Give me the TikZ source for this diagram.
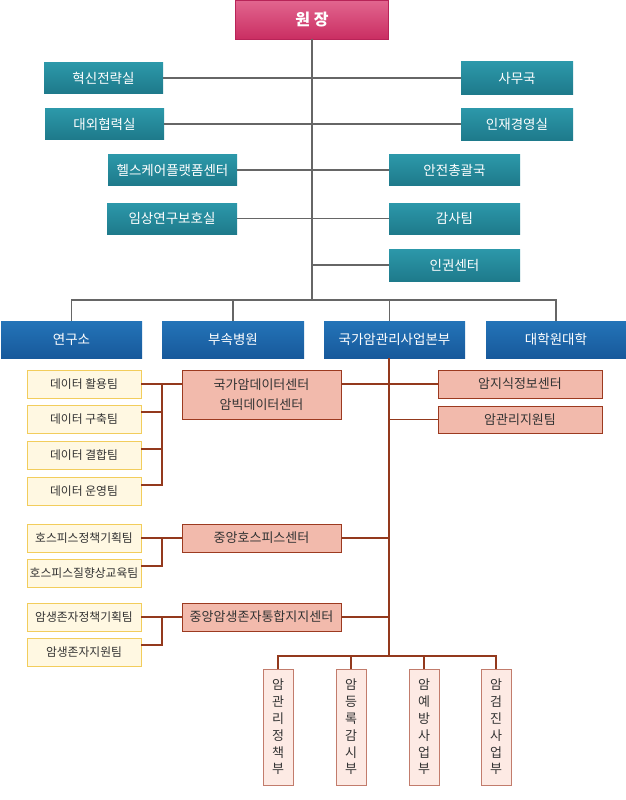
\documentclass[tikz,border=0pt]{standalone}
\usepackage{fontspec}
\setmainfont{Noto Sans CJK KR}
\definecolor{tealT}{HTML}{2C98AA}
\definecolor{tealB}{HTML}{1E7A8B}
\definecolor{blueT}{HTML}{2474B8}
\definecolor{blueB}{HTML}{17599B}
\definecolor{magT}{HTML}{E2668F}
\definecolor{magB}{HTML}{CA2E62}
\definecolor{magD}{HTML}{B82458}
\definecolor{yelF}{HTML}{FFF8E2}
\definecolor{yelD}{HTML}{F2CD5C}
\definecolor{salF}{HTML}{F2BAAC}
\definecolor{salD}{HTML}{9C3A20}
\definecolor{lpF}{HTML}{FDEAE4}
\definecolor{lpD}{HTML}{C27C6C}
\definecolor{lineg}{HTML}{666666}
\definecolor{liner}{HTML}{93391D}
\definecolor{txt}{HTML}{333333}
\begin{document}
\begin{tikzpicture}[x=1pt,y=-1pt,
  every node/.style={inner sep=0pt, outer sep=0pt},
  gline/.style={draw=lineg, line width=1.2pt},
  rline/.style={draw=liner, line width=1.2pt},
  topbox/.style={top color=magT, bottom color=magB, draw=magD, line width=0.6pt, text=white,
    font=\fontsize{16}{19}\selectfont\bfseries, minimum width=153pt, minimum height=39pt},
  tealbox/.style={top color=tealT, bottom color=tealB, text=white,
    font=\fontsize{13.5}{16}\selectfont, minimum height=31pt},
  bluebox/.style={top color=blueT, bottom color=blueB, text=white,
    font=\fontsize{13.5}{16}\selectfont, minimum height=37pt},
  yelbox/.style={fill=yelF, draw=yelD, line width=1pt, text=txt,
    font=\fontsize{11.8}{14}\selectfont, minimum width=114pt, minimum height=28pt},
  salbox/.style={fill=salF, draw=salD, line width=1pt, text=txt,
    font=\fontsize{13}{19.5}\selectfont, align=center, minimum height=28pt},
  vbox/.style={fill=lpF, draw=lpD, line width=1pt, text=txt,
    font=\fontsize{13}{16.8}\selectfont, align=center, minimum width=30pt, minimum height=116pt}
]
\useasboundingbox (0,0) rectangle (625,800);

% top
\node[topbox] (wj) at (312,19.5) {원 장};

% staff offices
\node[tealbox, minimum width=119pt] (h1) at (103.5,78) {혁신전략실};
\node[tealbox, minimum width=119pt] (h2) at (104.5,124) {대외협력실};
\node[tealbox, minimum width=129pt] (h3) at (172.5,170) {헬스케어플랫폼센터};
\node[tealbox, minimum width=130pt] (h4) at (172,218.5) {임상연구보호실};
\node[tealbox, minimum width=112pt, minimum height=32pt] (r1) at (517,78) {사무국};
\node[tealbox, minimum width=112pt, minimum height=32pt] (r2) at (517,124) {인재경영실};
\node[tealbox, minimum width=131pt] (r3) at (454.5,170) {안전총괄국};
\node[tealbox, minimum width=131pt] (r4) at (454.5,218.5) {감사팀};
\node[tealbox, minimum width=131pt, minimum height=32pt] (r5) at (454.5,265) {인권센터};

% main divisions
\node[bluebox, minimum width=141pt] (b1) at (71.5,339.5) {연구소};
\node[bluebox, minimum width=142pt] (b2) at (233,339.5) {부속병원};
\node[bluebox, minimum width=141pt] (b3) at (394.5,339.5) {국가암관리사업본부};
\node[bluebox, minimum width=140pt] (b4) at (556,339.5) {대학원대학};

\coordinate (spine) at (312,300);

\draw[gline] (wj.south) -- (spine);
\draw[gline] (h1.east) -- (r1.west);
\draw[gline] (h2.east) -- (r2.west);
\draw[gline] (h3.east) -- (r3.west);
\draw[gline] (h4.east) -- (r4.west);
\draw[gline] (spine |- r5.west) -- (r5.west);
\coordinate (b3top) at ([xshift=-5pt]b3.north);
\draw[gline] (b1.north) |- (spine) -| (b4.north);
\draw[gline] (b2.north) -- (b2.north |- spine);
\draw[gline] (b3top) -- (b3top |- spine);

% teams (yellow)
\node[yelbox] (y1) at (84,384) {데이터 활용팀};
\node[yelbox] (y2) at (84,419.5) {데이터 구축팀};
\node[yelbox] (y3) at (84,455) {데이터 결합팀};
\node[yelbox] (y4) at (84,491) {데이터 운영팀};
\node[yelbox] (y5) at (84,538) {호스피스정책기획팀};
\node[yelbox] (y6) at (84,573) {호스피스질향상교육팀};
\node[yelbox] (y7) at (84,617) {암생존자정책기획팀};
\node[yelbox] (y8) at (84,652) {암생존자지원팀};

% centers (salmon)
\node[salbox, minimum width=159pt, minimum height=49pt] (p1) at (261.5,394.5) {국가암데이터센터\\암빅데이터센터};
\node[salbox, minimum width=159pt] (p2) at (261.5,538) {중앙호스피스센터};
\node[salbox, minimum width=159pt] (p3) at (261.5,617) {중앙암생존자통합지지센터};
\node[salbox, minimum width=164pt] (p4) at (520,384) {암지식정보센터};
\node[salbox, minimum width=164pt, minimum height=27pt] (p5) at (520,419.5) {암관리지원팀};

% departments (vertical)
\node[vbox] (v1) at (278,727) {암\\관\\리\\정\\책\\부};
\node[vbox] (v2) at (351,727) {암\\등\\록\\감\\시\\부};
\node[vbox] (v3) at (424,727) {암\\예\\방\\사\\업\\부};
\node[vbox] (v4) at (496,727) {암\\검\\진\\사\\업\\부};

\coordinate (b3bot) at ([xshift=-5.5pt]b3.south);
\coordinate (redbus) at (389,656);
\coordinate (brA) at (162,384);
\coordinate (brB) at (162,538);
\coordinate (brC) at (162,617);
\coordinate (p1a) at ([yshift=10.5pt]p1.west);
\coordinate (p1b) at ([yshift=10.5pt]p1.east);

\draw[rline] (b3bot) -- (redbus);
\draw[rline] (y1.east) -- (p1a);
\draw[rline] ([yshift=6pt]y4.east) -| (brA);
\draw[rline] ([yshift=7.5pt]y2.east) -- ++(21,0);
\draw[rline] ([yshift=6pt]y3.east) -- ++(21,0);
\draw[rline] (p1b) -- (p4.west);
\draw[rline] (redbus |- p5.west) -- (p5.west);

\draw[rline] (y5.east) -- (p2.west);
\draw[rline] ([yshift=7pt]y6.east) -| (brB);
\draw[rline] (p2.east) -- (p2.east -| redbus);

\draw[rline] (y7.east) -- (p3.west);
\draw[rline] ([yshift=7pt]y8.east) -| (brC);
\draw[rline] (p3.east) -- (p3.east -| redbus);

\draw[rline] (v1.north) |- (redbus) -| (v4.north);
\draw[rline] (v2.north) -- (v2.north |- redbus);
\draw[rline] (v3.north) -- (v3.north |- redbus);
\end{tikzpicture}
\end{document}
